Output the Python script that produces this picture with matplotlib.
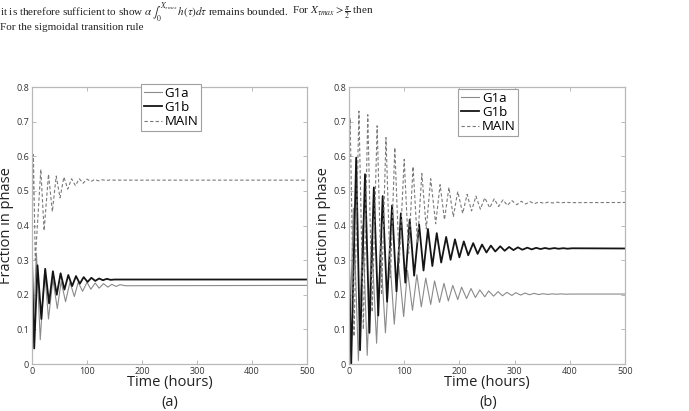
import matplotlib.pyplot as plt

# ---- data (extrema of the damped oscillations) ----
# panel (a)
a_main_t = [0, 2.5, 6, 16, 22, 30, 37, 44, 51, 58, 65, 72, 79, 86, 93, 100, 107, 114, 121, 128, 135, 142, 150, 500]
a_main_v = [0.36, 0.605, 0.30, 0.562, 0.385, 0.548, 0.44, 0.543, 0.48, 0.54, 0.505, 0.535, 0.515, 0.535,
            0.522, 0.534, 0.527, 0.533, 0.529, 0.532, 0.530, 0.5315, 0.531, 0.531]
a_g1a_t = [0, 8, 15, 23, 30, 38, 46, 53, 61, 69, 77, 84, 92, 100, 107, 115, 122, 130, 138, 145, 153, 160, 170, 500]
a_g1a_v = [0.0, 0.32, 0.07, 0.27, 0.13, 0.245, 0.16, 0.238, 0.18, 0.236, 0.195, 0.236, 0.21, 0.236,
           0.216, 0.234, 0.219, 0.232, 0.222, 0.23, 0.224, 0.229, 0.226, 0.227]
a_g1b_t = [0, 4, 10, 17, 24, 31, 38, 45, 52, 59, 66, 73, 80, 87, 94, 101, 108, 115, 122, 129, 136, 143, 150, 500]
a_g1b_v = [0.3, 0.045, 0.285, 0.13, 0.275, 0.175, 0.268, 0.2, 0.262, 0.215, 0.257, 0.225, 0.254, 0.232,
           0.251, 0.237, 0.249, 0.24, 0.247, 0.242, 0.246, 0.243, 0.244, 0.244]

# panel (b)
b_g1a_t = [0, 8, 17, 25, 33, 41, 50, 57, 66, 74, 82, 90, 99, 106, 115, 123, 131, 139, 148, 155, 164, 172,
           180, 188, 197, 204, 213, 221, 229, 237, 246, 253, 262, 270, 278, 286, 295, 302, 311, 319, 327,
           335, 344, 351, 360, 368, 376, 384, 393, 400, 500]
b_g1a_v = [0.0, 0.45, 0.01, 0.40, 0.025, 0.36, 0.06, 0.33, 0.09, 0.305, 0.115, 0.285, 0.137, 0.27, 0.155,
           0.258, 0.165, 0.248, 0.172, 0.24, 0.178, 0.233, 0.182, 0.227, 0.186, 0.222, 0.189, 0.218, 0.192,
           0.214, 0.194, 0.211, 0.196, 0.209, 0.197, 0.207, 0.198, 0.206, 0.199, 0.205, 0.2, 0.204, 0.2005,
           0.203, 0.201, 0.2025, 0.2015, 0.2025, 0.2015, 0.202, 0.202]
b_g1b_t = [0, 4, 13, 20, 29, 37, 45, 53, 61, 69, 78, 86, 94, 102, 110, 118, 127, 135, 143, 151, 159, 167,
           176, 184, 192, 200, 208, 216, 225, 233, 241, 249, 257, 265, 274, 282, 290, 298, 306, 314, 323,
           331, 339, 347, 355, 363, 372, 380, 388, 396, 404, 500]
b_g1b_v = [0.3, 0.0, 0.596, 0.04, 0.548, 0.09, 0.51, 0.14, 0.485, 0.18, 0.458, 0.21, 0.435, 0.235, 0.417,
           0.255, 0.403, 0.27, 0.39, 0.283, 0.378, 0.293, 0.367, 0.301, 0.36, 0.308, 0.354, 0.314, 0.349,
           0.318, 0.345, 0.322, 0.342, 0.325, 0.34, 0.327, 0.338, 0.329, 0.337, 0.33, 0.336, 0.331, 0.3355,
           0.332, 0.335, 0.3325, 0.3348, 0.3328, 0.3345, 0.333, 0.3342, 0.3336]
b_main_t = [0, 2, 9, 18, 26, 34, 42, 51, 59, 67, 75, 83, 91, 100, 108, 116, 124, 132, 140, 148, 157, 165,
            173, 181, 189, 197, 206, 214, 222, 230, 238, 246, 255, 263, 271, 279, 287, 295, 304, 312, 320,
            328, 336, 344, 353, 361, 369, 377, 385, 393, 402, 500]
b_main_v = [0.62, 0.71, 0.08, 0.73, 0.1, 0.72, 0.15, 0.688, 0.2, 0.654, 0.25, 0.625, 0.29, 0.591, 0.32,
            0.57, 0.35, 0.55, 0.39, 0.535, 0.405, 0.518, 0.417, 0.51, 0.425, 0.498, 0.435, 0.49, 0.442,
            0.485, 0.447, 0.48, 0.451, 0.477, 0.455, 0.474, 0.458, 0.472, 0.46, 0.47, 0.462, 0.469, 0.463,
            0.468, 0.464, 0.4675, 0.465, 0.4672, 0.4655, 0.467, 0.466, 0.4665]

xticks = [0, 100, 200, 300, 400, 500]
yticks = [0, 0.1, 0.2, 0.3, 0.4, 0.5, 0.6, 0.7, 0.8]
ytick_labels = ['0', '0.1', '0.2', '0.3', '0.4', '0.5', '0.6', '0.7', '0.8']
series_names = ['G1a', 'G1b', 'MAIN']

plt.rcParams['font.family'] = ['Open Sans', 'DejaVu Sans']
plt.rcParams['mathtext.fontset'] = 'stix'

W, H = 689, 411
fig = plt.figure(figsize=(W / 100, H / 100), dpi=100)


def px_rect(x0, x1, ytop, ybot):
    return [x0 / W, 1 - ybot / H, (x1 - x0) / W, (ybot - ytop) / H]


def draw_panel(ax, g1a, g1b, main, leg_x, leg_y):
    ax.plot(g1a[0], g1a[1], color='#8a8a8a', lw=0.8, label=series_names[0])
    ax.plot(g1b[0], g1b[1], color='#151515', lw=1.3, label=series_names[1])
    ax.plot(main[0], main[1], color='#7a7a7a', lw=0.8, ls=(0, (3, 2)), label=series_names[2])
    ax.set_xlim(0, 500)
    ax.set_ylim(0, 0.8)
    ax.set_xticks(xticks)
    ax.set_yticks(yticks)
    ax.set_yticklabels(ytick_labels)
    ax.tick_params(direction='in', top=True, right=True, length=3, width=0.6,
                   color='#b0b0b0', labelsize=6.5, labelcolor='#333333', pad=2)
    for s in ax.spines.values():
        s.set_color('#b8b8b8')
        s.set_linewidth(0.9)
    ax.set_xlabel('Time (hours)', fontsize=10.5, color='#222222')
    ax.set_ylabel('Fraction in phase', fontsize=10.5, color='#222222')
    ax.xaxis.set_label_coords(0.5, -0.04)
    ax.yaxis.set_label_coords(-0.066, 0.5)
    leg = ax.legend(loc='upper left', bbox_to_anchor=(leg_x, leg_y), fontsize=9.5,
                    frameon=True, fancybox=False, framealpha=1, edgecolor='#a0a0a0',
                    handlelength=1.4, handletextpad=0.2, labelspacing=0.1,
                    borderpad=0.2, borderaxespad=0)
    leg.get_frame().set_linewidth(0.8)


ax1 = fig.add_axes(px_rect(32, 307, 87, 364))
draw_panel(ax1, (a_g1a_t, a_g1a_v), (a_g1b_t, a_g1b_v), (a_main_t, a_main_v), 0.396, 1.011)

ax2 = fig.add_axes(px_rect(349, 625, 87, 364))
draw_panel(ax2, (b_g1a_t, b_g1a_v), (b_g1b_t, b_g1b_v), (b_main_t, b_main_v), 0.395, 0.993)

# captions below the panels
fig.text(170 / W, 1 - 410 / H, '(a)', fontsize=10.5, ha='center', va='bottom', color='#222222')
fig.text(488 / W, 1 - 410 / H, '(b)', fontsize=10.5, ha='center', va='bottom', color='#222222')

# bits of the surrounding paper text at the top
serif = ['Liberation Serif', 'DejaVu Serif']
fig.text(0.0, 1 - 13 / H, r'it is therefore sufficient to show $\alpha\,\int_0^{X_{\tau max}}\, h(\tau)d\tau$ remains bounded.',
         fontsize=8, family=serif, ha='left', va='center', color='#222222')
fig.text(0.0, 1 - 28 / H, 'For the sigmoidal transition rule',
         fontsize=8, family=serif, ha='left', va='center', color='#222222')
fig.text(292 / W, 1 - 13 / H, r'For $X_{\tau max} > \frac{\pi}{2}$ then',
         fontsize=8, family=serif, ha='left', va='center', color='#222222')

fig.savefig('out.png', dpi=100)
